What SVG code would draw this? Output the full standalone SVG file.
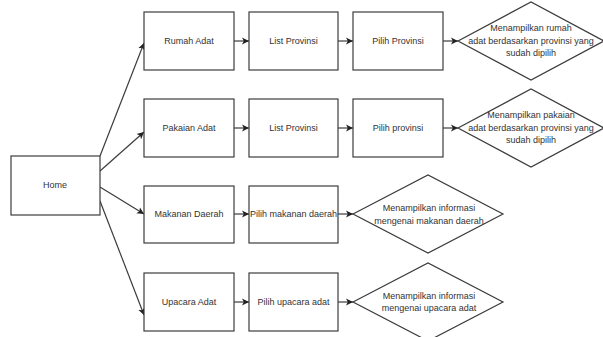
<svg xmlns="http://www.w3.org/2000/svg" width="603" height="337" viewBox="0 0 603 337">
<style>
.n{fill:#fff;stroke:#3c3c3c;stroke-width:1.2}
.t{font-family:"Liberation Sans",Arial,sans-serif;font-size:9px;fill:#333;text-anchor:middle}
.c{fill:none;stroke:#3c3c3c;stroke-width:1.2}
</style>
<defs>
<marker id="a" markerUnits="userSpaceOnUse" markerWidth="8" markerHeight="8" refX="7" refY="4" orient="auto">
<path d="M0,0.5 L7,4 L0,7.5 L1.8,4 Z" fill="#222"/>
</marker>
</defs>
<rect width="603" height="337" fill="#fff"/>
<g id="connectors">
<line class="c" x1="100" y1="156" x2="144" y2="43" marker-end="url(#a)"/>
<line class="c" x1="100" y1="171" x2="144" y2="132" marker-end="url(#a)"/>
<line class="c" x1="100" y1="187" x2="144" y2="214" marker-end="url(#a)"/>
<line class="c" x1="100" y1="201" x2="144" y2="315" marker-end="url(#a)"/>
<line class="c" x1="234" y1="41" x2="249" y2="41" marker-end="url(#a)"/>
<line class="c" x1="338" y1="41" x2="353" y2="41" marker-end="url(#a)"/>
<line class="c" x1="443" y1="41" x2="458" y2="41" marker-end="url(#a)"/>
<line class="c" x1="234" y1="128" x2="249" y2="128" marker-end="url(#a)"/>
<line class="c" x1="338" y1="128" x2="353" y2="128" marker-end="url(#a)"/>
<line class="c" x1="443" y1="128" x2="458" y2="128" marker-end="url(#a)"/>
<line class="c" x1="234" y1="214" x2="249" y2="214" marker-end="url(#a)"/>
<line class="c" x1="338" y1="214" x2="353" y2="214" marker-end="url(#a)"/>
<line class="c" x1="234" y1="302" x2="249" y2="302" marker-end="url(#a)"/>
<line class="c" x1="338" y1="302" x2="353" y2="302" marker-end="url(#a)"/>
</g>
<g id="home"><rect class="n" x="11" y="156" width="89" height="59"/><text class="t" x="55" y="188">Home</text></g>
<g id="rumah"><rect class="n" x="144" y="12" width="90" height="58"/><text class="t" x="189" y="44">Rumah Adat</text></g>
<g id="list1"><rect class="n" x="249" y="12" width="89" height="58"/><text class="t" x="293.5" y="44">List Provinsi</text></g>
<g id="pilih1"><rect class="n" x="353" y="12" width="90" height="58"/><text class="t" x="398" y="44">Pilih Provinsi</text></g>
<g id="d1"><polygon class="n" points="458,41 531,2 604,41 531,80"/>
<text class="t" x="531" y="30.5">Menampilkan rumah</text>
<text class="t" x="531" y="43.5">adat berdasarkan provinsi yang</text>
<text class="t" x="531" y="56">sudah dipilih</text></g>
<g id="pakaian"><rect class="n" x="144" y="99" width="90" height="58"/><text class="t" x="189" y="131">Pakaian Adat</text></g>
<g id="list2"><rect class="n" x="249" y="99" width="89" height="58"/><text class="t" x="293.5" y="131">List Provinsi</text></g>
<g id="pilih2"><rect class="n" x="353" y="99" width="90" height="58"/><text class="t" x="398" y="131">Pilih provinsi</text></g>
<g id="d2"><polygon class="n" points="458,128 531,89 604,128 531,167"/>
<text class="t" x="531" y="117.5">Menampilkan pakaian</text>
<text class="t" x="531" y="130.5">adat berdasarkan provinsi yang</text>
<text class="t" x="531" y="143">sudah dipilih</text></g>
<g id="makanan"><rect class="n" x="144" y="186" width="90" height="57"/><text class="t" x="189" y="217">Makanan Daerah</text></g>
<g id="pilih3"><rect class="n" x="249" y="186" width="89" height="57"/><text class="t" x="293.5" y="217">Pilih makanan daerah</text></g>
<g id="d3"><polygon class="n" points="353,214 428,175 503,214 428,253"/>
<text class="t" x="429" y="211">Menampilkan informasi</text>
<text class="t" x="429" y="224">mengenai makanan daerah</text></g>
<g id="upacara"><rect class="n" x="144" y="273" width="90" height="58"/><text class="t" x="189" y="305">Upacara Adat</text></g>
<g id="pilih4"><rect class="n" x="249" y="273" width="89" height="58"/><text class="t" x="293.5" y="305">Pilih upacara adat</text></g>
<g id="d4"><polygon class="n" points="353,302 428,263 503,302 428,341"/>
<text class="t" x="429" y="299">Menampilkan informasi</text>
<text class="t" x="429" y="311">mengenai upacara adat</text></g>
</svg>
